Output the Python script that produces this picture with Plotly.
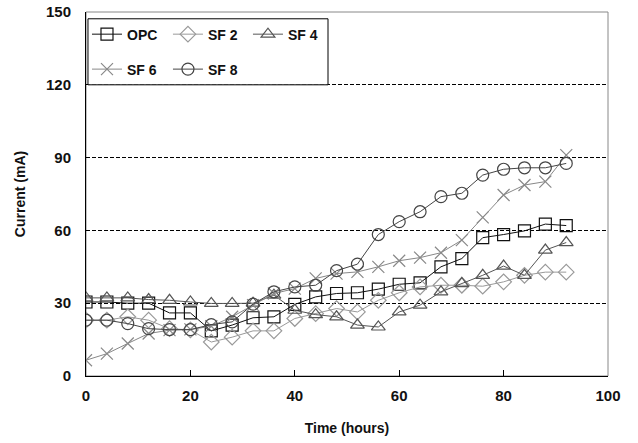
import plotly.graph_objects as go

time_h = [0, 4, 8, 12, 16, 20, 24, 28, 32, 36, 40, 44, 48, 52, 56, 60, 64, 68, 72, 76, 80, 84, 88, 92]
opc = [30.5, 30.5, 30, 30, 26, 26, 18.6, 21, 24, 24.4, 29.5, 32.6, 34, 34.3, 35.8, 37.8, 38.4, 45, 48.4, 57, 58.3, 59.8, 62.6, 62]
sf2 = [23, 23, 24.4, 23, 19.5, 19, 14, 16, 18.6, 18.6, 23.7, 25.7, 27.8, 26.4, 31.2, 34.3, 36.7, 37.4, 37.4, 37, 38.8, 41.5, 42.8, 42.8]
sf4 = [32.2, 32.2, 32.2, 31.5, 31.2, 30.5, 29.9, 29.9, 30, 33.3, 27.1, 25.3, 24.4, 21, 20.2, 26.4, 29.2, 34.7, 38.1, 41.5, 45.3, 41.5, 51.9, 55]
sf6 = [6.5, 9.2, 13.4, 17.5, 18.9, 19.2, 20.5, 24.4, 29.2, 34, 36, 40.2, 42.2, 42.9, 45, 47.5, 48.8, 50.8, 56, 65.4, 74.6, 78.7, 80.1, 91]
sf8 = [23, 23, 21.6, 19.5, 19.1, 19.1, 21.2, 22.3, 29.6, 34.7, 36.7, 37.4, 43.4, 46.1, 58.3, 63.6, 67.7, 73.9, 75.3, 82.8, 85.2, 85.8, 85.8, 87.6]

series = [
    ("OPC", opc, "square-open", "#111111", "legend"),
    ("SF 2", sf2, "diamond-open", "#999999", "legend2"),
    ("SF 4", sf4, "triangle-up-open", "#555555", "legend3"),
    ("SF 6", sf6, "x-thin-open", "#888888", "legend4"),
    ("SF 8", sf8, "circle-open", "#444444", "legend5"),
]
# legend placement (paper x, paper y) for each entry
legend_pos = {
    "legend": (0.0019, 0.938),
    "legend2": (0.157, 0.938),
    "legend3": (0.3103, 0.938),
    "legend4": (0.0019, 0.842),
    "legend5": (0.157, 0.842),
}

FAM = "Liberation Sans, Arial, sans-serif"

fig = go.Figure()
for name, vals, sym, col, lg in series:
    fig.add_trace(go.Scatter(
        x=time_h, y=vals, name=name, mode="lines+markers",
        line=dict(color=col, width=1),
        marker=dict(symbol=sym, size=12, color=col, line=dict(color=col, width=1.2)),
        legend=lg,
    ))

legend_layout = {}
for lg, (lx, ly) in legend_pos.items():
    legend_layout[lg] = dict(
        orientation="h", x=lx, y=ly, xanchor="left", yanchor="middle",
        bgcolor="rgba(0,0,0,0)", borderwidth=0,
        itemwidth=30,
        font=dict(size=14, family=FAM, color="#111111", weight="bold"),
        itemsizing="trace",
    )

fig.update_layout(
    width=638, height=443,
    margin=dict(l=86, r=30, t=12, b=67, autoexpand=False),
    paper_bgcolor="white", plot_bgcolor="white",
    font=dict(family=FAM, size=14, color="#111111"),
    showlegend=True,
    xaxis=dict(
        range=[0, 100], tickvals=[0, 20, 40, 60, 80, 100],
        ticks="inside", ticklen=6, tickcolor="black",
        showline=True, linecolor="black", linewidth=1,
        showgrid=False, zeroline=False, automargin=False,
        title=dict(text="Time (hours)", standoff=20,
                   font=dict(size=14, family=FAM, weight="bold", color="#111111")),
        tickfont=dict(size=15, family=FAM, weight="bold", color="#111111"),
        ticklabelstandoff=6,
    ),
    yaxis=dict(
        range=[0, 150], tickvals=[0, 30, 60, 90, 120, 150],
        ticks="", showline=True, linecolor="black", linewidth=1,
        showgrid=True, gridcolor="black", griddash="4px,2px", gridwidth=1,
        zeroline=False, automargin=False,
        title=dict(text="Current (mA)", standoff=17,
                   font=dict(size=14, family=FAM, weight="bold", color="#111111")),
        tickfont=dict(size=15, family=FAM, weight="bold", color="#111111"),
        ticklabelstandoff=11,
    ),
    shapes=[
        dict(type="rect", xref="paper", yref="paper", x0=0, x1=1, y0=0, y1=1,
             line=dict(color="#888888", width=1), layer="below"),
        dict(type="rect", xref="x", yref="y", x0=0.38, x1=46.36, y0=120, y1=147.2,
             line=dict(color="black", width=1), fillcolor="white", layer="above"),
    ],
    **legend_layout,
)

fig.write_html("out.html")
